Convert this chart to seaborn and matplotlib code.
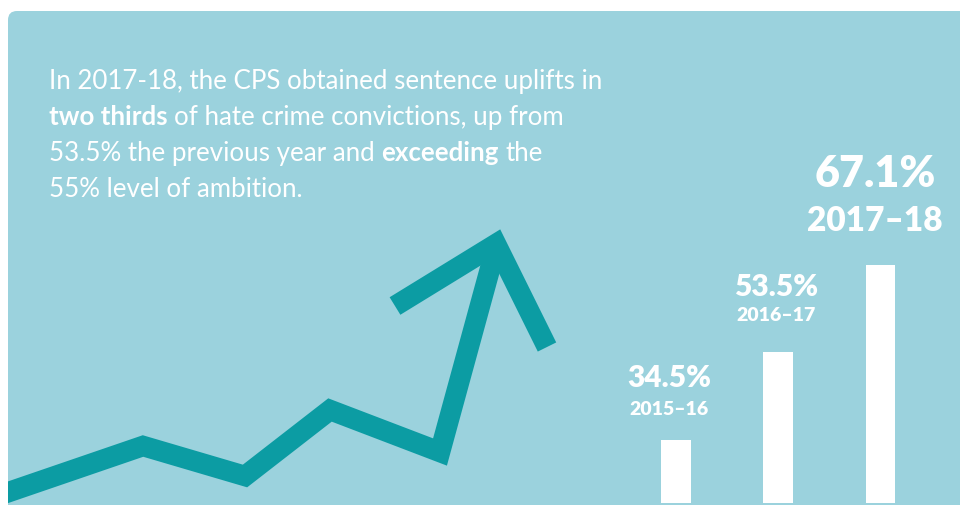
import numpy as np
import pandas as pd
import matplotlib
matplotlib.use("Agg")
import matplotlib.pyplot as plt
from matplotlib.patches import FancyBboxPatch
import seaborn as sns

# ---------------- data ----------------
periods = ["2015–16", "2016–17", "2017–18"]
values = [34.5, 53.5, 67.1]
value_labels = ["34.5%", "53.5%", "67.1%"]

headline_lines = [
    [("In 2017-18, the CPS obtained sentence uplifts in", "normal")],
    [("two thirds", "bold"), ("of hate crime convictions, up from", "normal")],
    [("53.5% the previous year and", "normal"), ("exceeding", "bold"), ("the", "normal")],
    [("55% level of ambition.", "normal")],
]

# decorative rising arrow (pixel space of the background layer)
arrow_x = [0, 143, 245, 330, 440, 493]
arrow_y = [495, 446, 476, 410, 452, 258]
head_x = [395, 496, 547]
head_y = [306, 244, 347]

# ---------------- style ----------------
PANEL = "#9bd2dd"
TEAL = "#0c9ca3"
W, H = 960, 505
sns.set_theme(style="white")
plt.rcParams["font.family"] = ["Lato", "DejaVu Sans"]

fig = plt.figure(figsize=(W / 100, H / 100), dpi=100)
fig.patch.set_facecolor("white")

# background layer in pixel coordinates
bg = fig.add_axes([0, 0, 1, 1])
bg.set_xlim(0, W)
bg.set_ylim(H, 0)
bg.axis("off")
panel = FancyBboxPatch((8, 11), 1000, 560, boxstyle="round,pad=0,rounding_size=9",
                       facecolor=PANEL, edgecolor="none", zorder=0)
bg.add_patch(panel)

l1, = bg.plot(arrow_x, arrow_y, color=TEAL, lw=14.8, solid_joinstyle="miter",
              solid_capstyle="butt", zorder=1)
l2, = bg.plot(head_x, head_y, color=TEAL, lw=14.8, solid_joinstyle="miter",
              solid_capstyle="butt", zorder=1)
l1.set_clip_path(panel)
l2.set_clip_path(panel)

# headline with mixed weights
fig.canvas.draw()
renderer = fig.canvas.get_renderer()
FS = 18.6
x0 = 49
baselines = [89, 125, 161, 197]
sp = bg.text(0, 0, "a a", fontsize=FS)
sp2 = bg.text(0, 0, "aa", fontsize=FS)
space_px = sp.get_window_extent(renderer).width - sp2.get_window_extent(renderer).width
sp.remove(); sp2.remove()
for line, yb in zip(headline_lines, baselines):
    x = x0
    for k, (seg, wt) in enumerate(line):
        t = bg.text(x, yb, seg, fontsize=FS, fontweight=wt, color="white",
                    ha="left", va="baseline", zorder=3)
        w = t.get_window_extent(renderer).width
        x += w + space_px

# bar layer
bar_left = 676 - 0.5 * 102.25
bar_w = 3 * 102.25
axb = fig.add_axes([bar_left / W, 0, bar_w / W, 1])
df = pd.DataFrame({"period": periods, "value": values})
sns.barplot(data=df, x="period", y="value", ax=axb, color="white", saturation=1,
            width=0.29, edgecolor="none")
fwd = lambda v: np.sign(v) * v ** 2
rev = lambda u: np.sign(u) * np.sqrt(np.abs(u))
axb.set_yscale("function", functions=(fwd, rev))
axb.set_ylim(-6.32, 97.56)
axb.set_xlim(-0.5, 2.5)
axb.patch.set_alpha(0)
axb.axis("off")

val_offsets = [(-7, 62), (-2.5, 65), (-5.5, 91)]
yr_offsets = [(-7, 31), (-2.5, 36), (-5.5, 44)]
val_sizes = [21.5, 21.5, 31]
yr_sizes = [14, 14, 24]
for i, (v, lab, per) in enumerate(zip(values, value_labels, periods)):
    axb.annotate(lab, xy=(i, v), xytext=val_offsets[i], textcoords="offset pixels",
                 ha="center", va="center", color="white", fontsize=val_sizes[i],
                 fontweight="heavy")
    axb.annotate(per, xy=(i, v), xytext=yr_offsets[i], textcoords="offset pixels",
                 ha="center", va="center", color="white", fontsize=yr_sizes[i],
                 fontweight="heavy")

fig.savefig("out.png", dpi=100, facecolor="white")
